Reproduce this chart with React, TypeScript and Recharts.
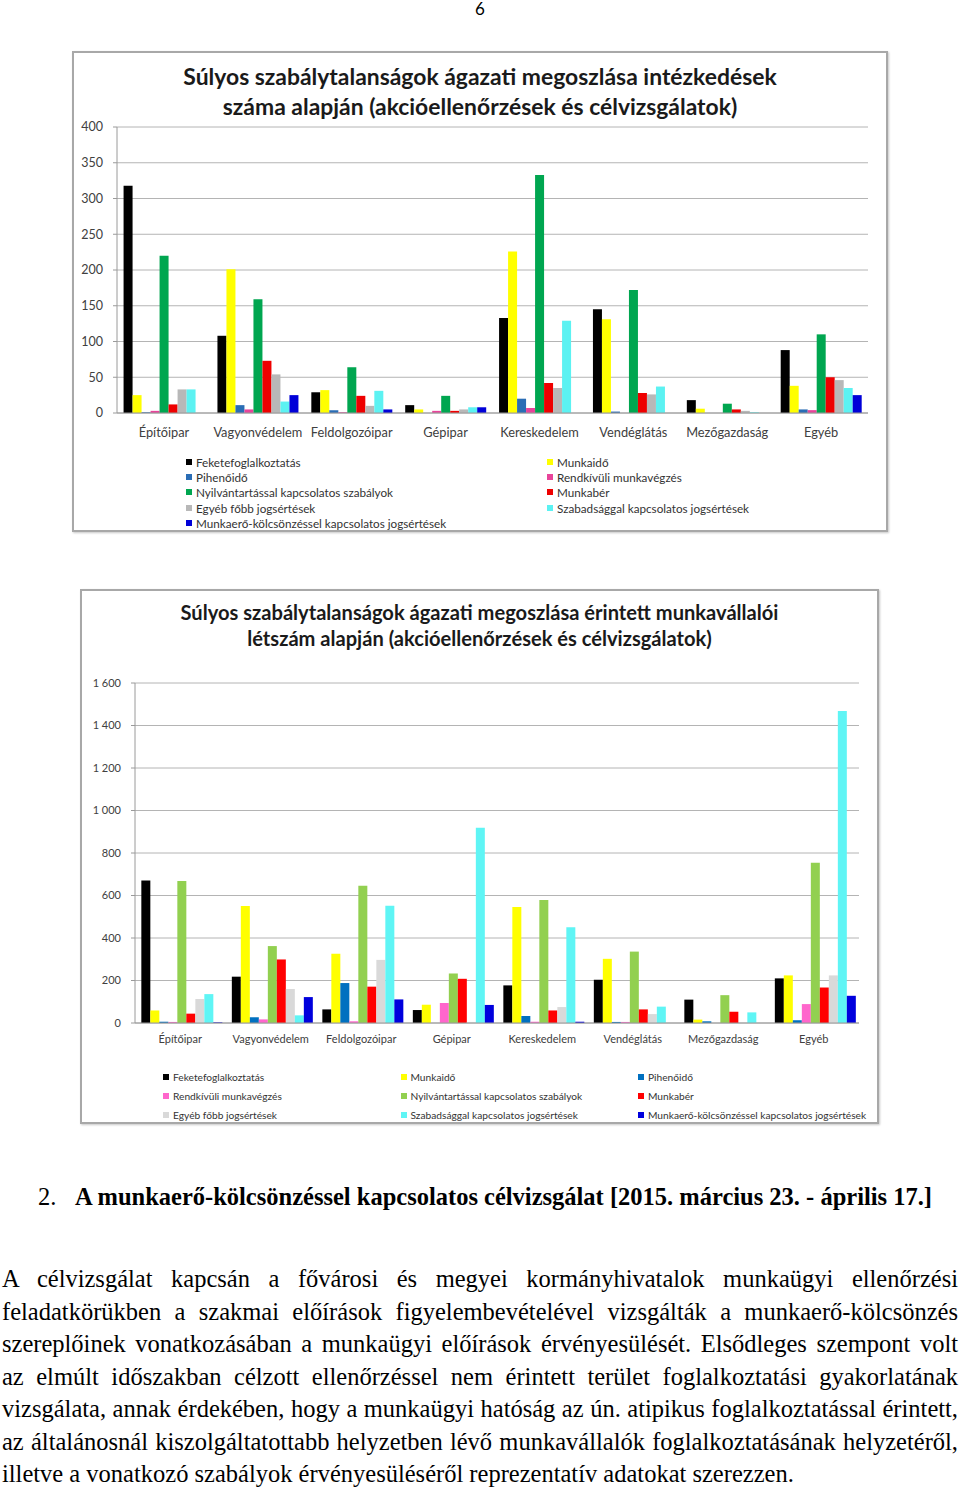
import React from "react";
import { Bar, BarChart, CartesianGrid, Legend, XAxis, YAxis } from "recharts";

const categories = [
    "Építőipar",
    "Vagyonvédelem",
    "Feldolgozóipar",
    "Gépipar",
    "Kereskedelem",
    "Vendéglátás",
    "Mezőgazdaság",
    "Egyéb",
];

const seriesNames = [
    "Feketefoglalkoztatás",
    "Munkaidő",
    "Pihenőidő",
    "Rendkívüli munkavégzés",
    "Nyilvántartással kapcsolatos szabályok",
    "Munkabér",
    "Egyéb főbb jogsértések",
    "Szabadsággal kapcsolatos jogsértések",
    "Munkaerő-kölcsönzéssel kapcsolatos jogsértések",
];

// chart 1: intézkedések száma
const fekete1 = [318, 108, 29, 11, 133, 145, 18, 88];
const munkaido1 = [25, 201, 32, 5, 226, 131, 6, 38];
const piheno1 = [1, 11, 4, 0, 20, 2, 0, 5];
const rendkivuli1 = [3, 5, 1, 3, 7, 0, 0, 4];
const nyilv1 = [220, 159, 64, 24, 333, 172, 13, 110];
const munkaber1 = [12, 73, 24, 3, 42, 28, 5, 50];
const egyeb1 = [33, 54, 10, 5, 35, 26, 3, 46];
const szabadsag1 = [33, 16, 31, 8, 129, 37, 1, 35];
const kolcson1 = [0, 25, 5, 8, 0, 0, 0, 25];

// chart 2: érintett munkavállalói létszám
const fekete2 = [671, 218, 64, 61, 177, 203, 110, 210];
const munkaido2 = [59, 551, 326, 86, 546, 302, 16, 224];
const piheno2 = [6, 27, 188, 0, 33, 5, 8, 13];
const rendkivuli2 = [5, 17, 8, 94, 6, 5, 0, 89];
const nyilv2 = [668, 362, 646, 233, 579, 336, 131, 754];
const munkaber2 = [44, 299, 171, 208, 59, 64, 53, 167];
const egyeb2 = [113, 160, 297, 5, 75, 42, 0, 224];
const szabadsag2 = [136, 36, 552, 919, 451, 77, 50, 1468];
const kolcson2 = [3, 122, 111, 85, 6, 0, 0, 128];

const ticks1 = [0, 50, 100, 150, 200, 250, 300, 350, 400];
const ticks2 = [0, 200, 400, 600, 800, 1000, 1200, 1400, 1600];

const colors1 = ["#000000", "#ffff00", "#2a6db5", "#e8449a", "#00a650", "#ee0000", "#b8b8b8", "#5cf2f2", "#0000d8"];
const colors2 = ["#000000", "#ffff00", "#0070c0", "#ff66cc", "#92d050", "#ff0000", "#d9d9d9", "#5ff5f5", "#0000dd"];

const paragraphLines = [
    "A célvizsgálat kapcsán a fővárosi és megyei kormányhivatalok munkaügyi ellenőrzési",
    "feladatkörükben a szakmai előírások figyelembevételével vizsgálták a munkaerő-kölcsönzés",
    "szereplőinek vonatkozásában a munkaügyi előírások érvényesülését. Elsődleges szempont volt",
    "az elmúlt időszakban célzott ellenőrzéssel nem érintett terület foglalkoztatási gyakorlatának",
    "vizsgálata, annak érdekében, hogy a munkaügyi hatóság az ún. atipikus foglalkoztatással érintett,",
    "az általánosnál kiszolgáltatottabb helyzetben lévő munkavállalók foglalkoztatásának helyzetéről,",
    "illetve a vonatkozó szabályok érvényesüléséről reprezentatív adatokat szerezzen.",
];

const FONT = "Lato, 'Open Sans', sans-serif";
const SERIF = "'Liberation Serif', 'Times New Roman', serif";

function buildRows(values: number[][]) {
    return categories.map((name, i) => {
        const row: Record<string, string | number> = { name };
        seriesNames.forEach((s, k) => {
            row[s] = values[k][i];
        });
        return row;
    });
}

const data1 = buildRows([fekete1, munkaido1, piheno1, rendkivuli1, nyilv1, munkaber1, egyeb1, szabadsag1, kolcson1]);
const data2 = buildRows([fekete2, munkaido2, piheno2, rendkivuli2, nyilv2, munkaber2, egyeb2, szabadsag2, kolcson2]);

const spaced = (v: number) =>
    v >= 1000 ? `${Math.floor(v / 1000)} ${String(v % 1000).padStart(3, "0")}` : String(v);

// legend laid out row by row, in series order (not alphabetic)
function makeLegend(cols: number, colWidth: number, rowHeight: number, fontSize: number, marker: number) {
    return (props: any) => {
        const items = [...(props.payload || [])].sort(
            (a: any, b: any) => seriesNames.indexOf(a.value) - seriesNames.indexOf(b.value)
        );
        return (
            <div
                style={{
                    display: "grid",
                    gridTemplateColumns: `repeat(${cols}, ${colWidth}px)`,
                    gridAutoRows: `${rowHeight}px`,
                    fontFamily: FONT,
                    fontSize,
                    color: "#333",
                }}
            >
                {items.map((it: any) => (
                    <div key={it.value} style={{ display: "flex", alignItems: "center", whiteSpace: "nowrap" }}>
                        <span
                            style={{
                                display: "inline-block",
                                width: marker,
                                height: marker,
                                background: it.color,
                                marginRight: 4,
                            }}
                        />
                        {it.value}
                    </div>
                ))}
            </div>
        );
    };
}

interface PanelProps {
    data: Record<string, string | number>[];
    colors: string[];
    ticks: number[];
    width: number;
    height: number;
    margin: { top: number; right: number; bottom: number; left: number };
    yWidth: number;
    yFont: number;
    xFont: number;
    xMargin: number;
    legendPos: { top: number; left: number };
    legendRender: (p: any) => React.ReactNode;
    gap: string;
    yFormat?: (v: number) => string;
}

function Panel(p: PanelProps) {
    return (
        <BarChart width={p.width} height={p.height} data={p.data} margin={p.margin} barGap={0} barCategoryGap={p.gap}>
            <CartesianGrid vertical={false} stroke="#b4b4b4" />
            <XAxis
                dataKey="name"
                interval={0}
                tickLine={false}
                tickSize={6}
                tickMargin={p.xMargin}
                axisLine={{ stroke: "#9a9a9a" }}
                tick={{ fontSize: p.xFont, fill: "#404040", fontFamily: FONT }}
            />
            <YAxis
                width={p.yWidth}
                domain={[0, p.ticks[p.ticks.length - 1]]}
                ticks={p.ticks}
                interval={0}
                tickSize={4}
                tickMargin={10}
                tickLine={{ stroke: "#9a9a9a" }}
                axisLine={{ stroke: "#9a9a9a" }}
                tickFormatter={p.yFormat}
                tick={{ fontSize: p.yFont, fill: "#404040", fontFamily: FONT }}
            />
            <Legend
                layout="horizontal"
                verticalAlign="middle"
                align="center"
                wrapperStyle={{ top: p.legendPos.top, left: p.legendPos.left, width: "auto" }}
                content={p.legendRender}
            />
            {seriesNames.map((s, k) => (
                <Bar key={s} dataKey={s} fill={p.colors[k]} isAnimationActive={false} />
            ))}
        </BarChart>
    );
}

const boxStyle: React.CSSProperties = {
    position: "absolute",
    border: "2px solid #a8a8a8",
    boxShadow: "1px 1px 2px #c8c8c8",
    background: "#fff",
};

export default function App() {
    return (
        <div style={{ position: "absolute", left: 0, top: 0, width: 960, height: 1487, background: "#fff" }}>
            <div
                style={{
                    position: "absolute",
                    top: -2,
                    left: 0,
                    width: 960,
                    textAlign: "center",
                    fontFamily: FONT,
                    fontSize: 17,
                }}
            >
                6
            </div>

            {/* chart 1 */}
            <div style={{ ...boxStyle, left: 72, top: 51, width: 812, height: 477 }}>
                <div
                    style={{
                        position: "absolute",
                        top: 8,
                        left: 0,
                        width: 812,
                        textAlign: "center",
                        fontFamily: FONT,
                        fontWeight: 700,
                        fontSize: 22.9,
                        lineHeight: "30px",
                        color: "#1a1a1a",
                        zIndex: 1,
                    }}
                >
                    Súlyos szabálytalanságok ágazati megoszlása intézkedések
                    <br />
                    száma alapján (akcióellenőrzések és célvizsgálatok)
                </div>
                <Panel
                    data={data1}
                    colors={colors1}
                    ticks={ticks1}
                    width={812}
                    height={477}
                    margin={{ top: 74, right: 18, bottom: 87, left: 0 }}
                    yWidth={43}
                    yFont={12.5}
                    xFont={12.8}
                    xMargin={9}
                    legendPos={{ top: 401, left: 112 }}
                    legendRender={makeLegend(2, 361, 15.4, 11.7, 6)}
                    gap="7%"
                />
            </div>

            {/* chart 2 */}
            <div style={{ ...boxStyle, left: 80, top: 589, width: 795, height: 531 }}>
                <div
                    style={{
                        position: "absolute",
                        top: 8,
                        left: 0,
                        width: 795,
                        textAlign: "center",
                        fontFamily: FONT,
                        fontWeight: 700,
                        fontSize: 20.1,
                        lineHeight: "26px",
                        color: "#1a1a1a",
                        zIndex: 1,
                    }}
                >
                    Súlyos szabálytalanságok ágazati megoszlása érintett munkavállalói
                    <br />
                    létszám alapján (akcióellenőrzések és célvizsgálatok)
                </div>
                <Panel
                    data={data2}
                    colors={colors2}
                    ticks={ticks2}
                    width={795}
                    height={531}
                    margin={{ top: 92, right: 18, bottom: 69, left: 0 }}
                    yWidth={53}
                    yFont={11}
                    xFont={11}
                    xMargin={6}
                    legendPos={{ top: 476, left: 81 }}
                    legendRender={makeLegend(3, 237.5, 19, 10.2, 6)}
                    gap="7%"
                    yFormat={spaced}
                />
            </div>

            {/* text below */}
            <div
                style={{
                    position: "absolute",
                    top: 1182,
                    left: 38,
                    fontFamily: SERIF,
                    fontSize: 24.5,
                    lineHeight: "30px",
                    whiteSpace: "nowrap",
                }}
            >
                2.
                <span style={{ position: "absolute", left: 37, fontWeight: 700 }}>
                    A munkaerő-kölcsönzéssel kapcsolatos célvizsgálat [2015. március 23. - április 17.]
                </span>
            </div>
            <div
                style={{
                    position: "absolute",
                    top: 1263,
                    left: 2,
                    width: 956,
                    fontFamily: SERIF,
                    fontSize: 24.5,
                    lineHeight: "32.5px",
                }}
            >
                {paragraphLines.map((line, i) => (
                    <div
                        key={i}
                        style={{
                            textAlign: "justify",
                            textAlignLast: i === paragraphLines.length - 1 ? "left" : "justify",
                            whiteSpace: "nowrap",
                        }}
                    >
                        {line}
                    </div>
                ))}
            </div>
        </div>
    );
}
